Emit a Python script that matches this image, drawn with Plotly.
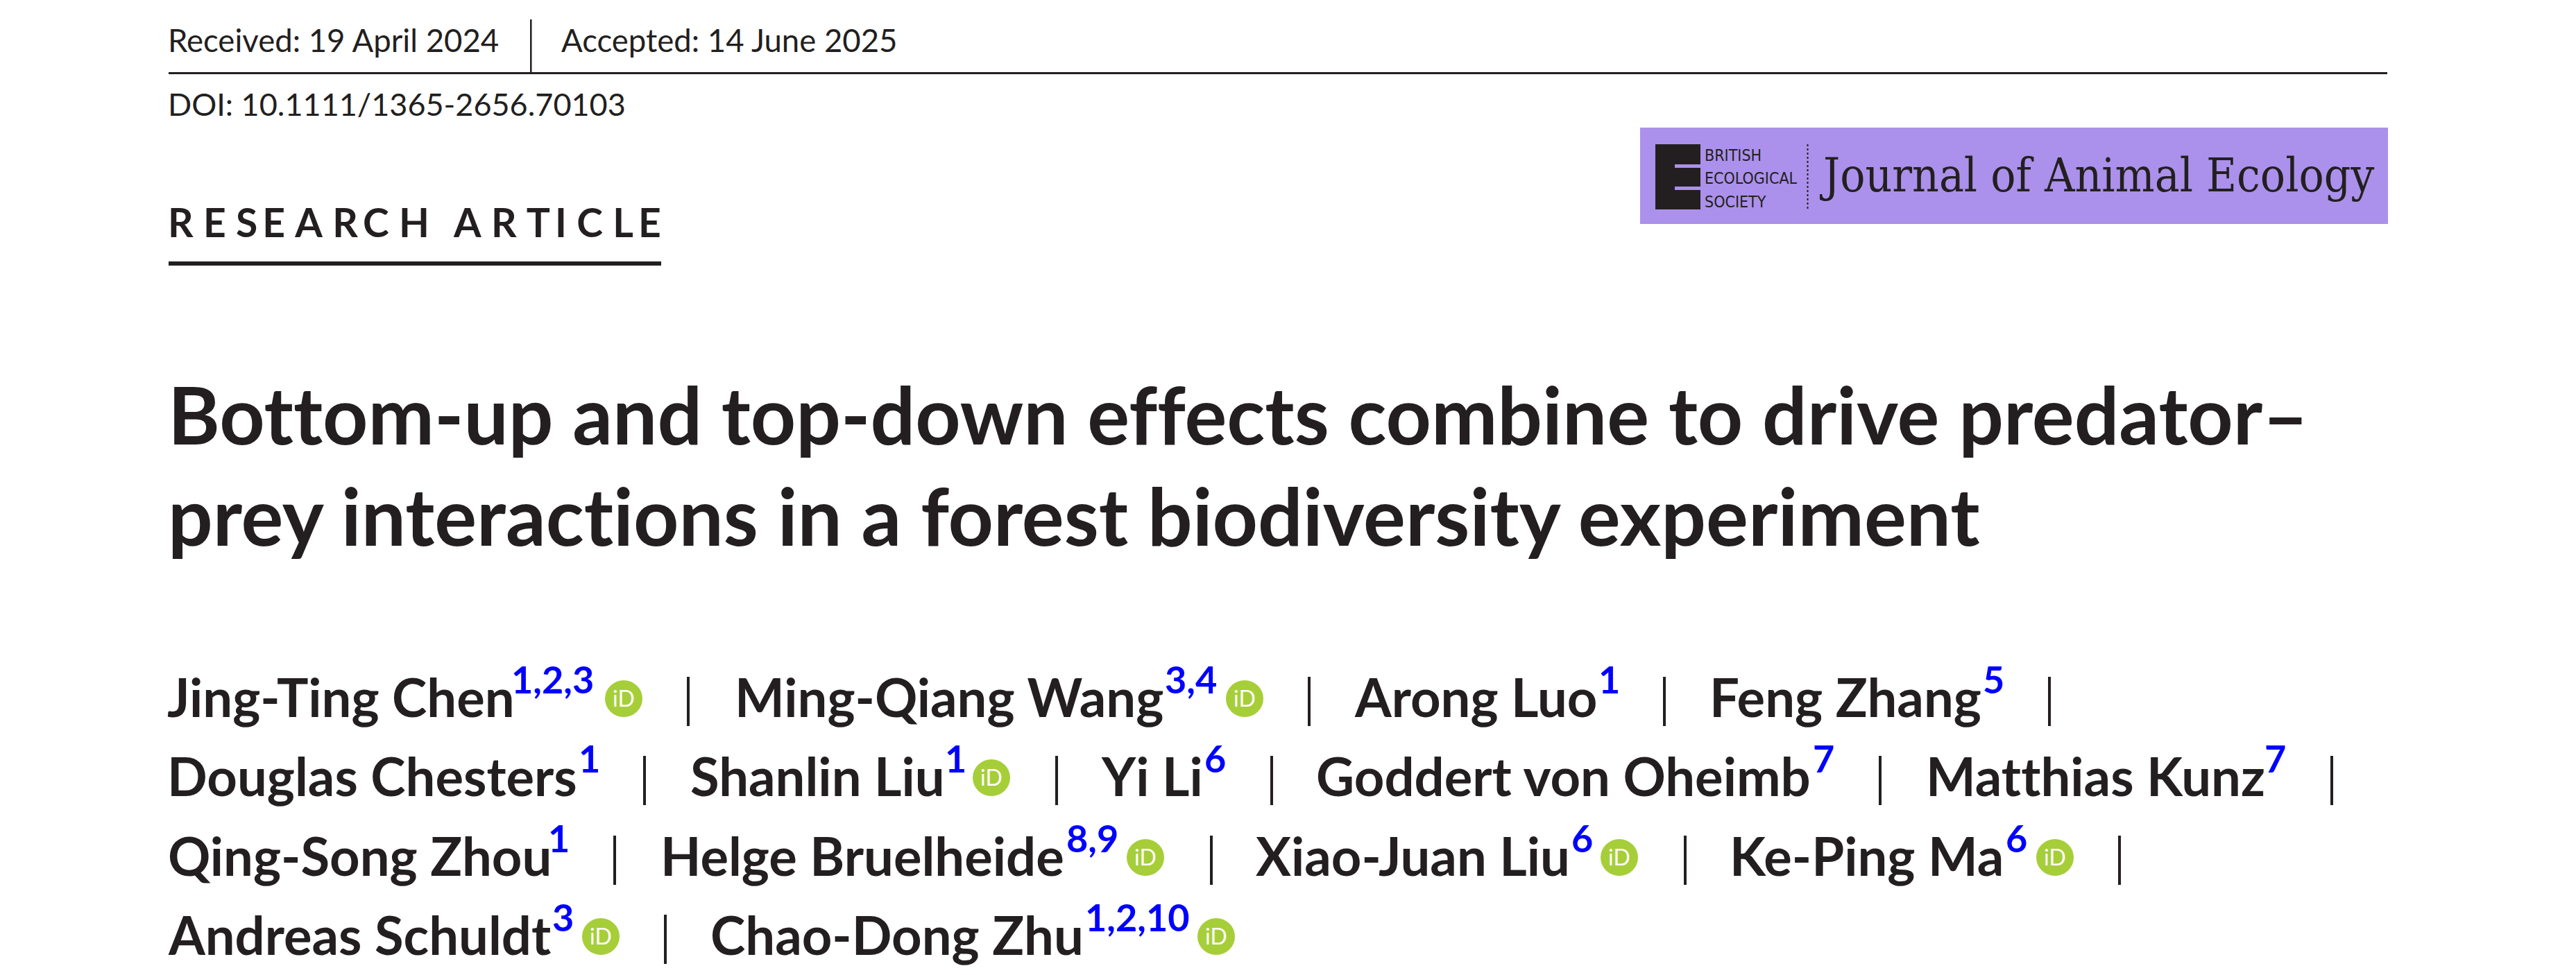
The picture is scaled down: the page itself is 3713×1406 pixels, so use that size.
import plotly.graph_objects as go

# page furniture
INK = "#231f20"
LINK = "#0000ff"
ORCID = "#a6ce39"
LOGO = "#ab91eb"

received = "Received: 19 April 2024"
accepted = "Accepted: 14 June 2025"
doi = "DOI: 10.1111/1365-2656.70103"
# tracked-out label, mixed thin and four-per-em spaces get the width of the original
article_type = "".join(c + ("\u2009" if i % 3 == 2 else "\u2005") for i, c in enumerate("RESEARCH ARTICLE")).rstrip()
# zero width non-joiners keep Lato from drawing tt, ff and ti ligatures
title_lines = ["Bot\u200ctom-up and top-down ef\u200cfects combine to drive predator–",
               "prey interact\u200cions in a forest biodiversity experiment"]

# author names and affiliation numbers, one list per line of the byline
names = [
    ["Jing-Ting Chen", "Ming-Qiang Wang", "Arong Luo", "Feng Zhang"],
    ["Douglas Chesters", "Shanlin Liu", "Yi Li", "Goddert von Oheimb", "Mat\u200cthias Kunz"],
    ["Qing-Song Zhou", "Helge Bruelheide", "Xiao-Juan Liu", "Ke-Ping Ma"],
    ["Andreas Schuldt", "Chao-Dong Zhu"],
]
affils = [
    ["1,2,3", "3,4", "1", "5"],
    ["1", "1", "6", "7", "7"],
    ["1", "8,9", "6", "6"],
    ["3", "1,2,10"],
]

# where things sit on the page, in picture pixels
name_x = [
    [240, 1058, 1951, 2463],
    [240, 994, 1586, 1896, 2775],
    [241, 951, 1809, 2492],
    [241, 1023],
]
affil_x = [
    [736, 1678, 2303, 2857],
    [833, 1361, 1735, 2612, 3263],
    [789, 1536, 2264, 2890],
    [795, 1563],
]
orcid_x = [
    [899, 1794],
    [1429],
    [1651, 2334, 2962],
    [866, 1753],
]
bar_x = [
    [992, 1887, 2399, 2954],
    [929, 1523, 1833, 2710, 3361],
    [886, 1746, 2429, 3055],
    [959],
]
row_base = [1034, 1148, 1263, 1377]


def text(x, base, s, size, color=INK, weight=400, family="Lato", anchor="left"):
    # base is the baseline, annotations are anchored on the middle of the line box
    return dict(x=x, y=base - 0.387 * size, xref="x", yref="y", text=s, showarrow=False, xanchor=anchor,
                yanchor="middle", font=dict(family=family, size=size, color=color, weight=weight), borderpad=0)


def rect(x0, y0, x1, y1, color):
    return dict(type="rect", xref="x", yref="y", x0=x0, y0=y0, x1=x1, y1=y1, fillcolor=color, line_width=0, layer="below")


fig = go.Figure()
fig.add_trace(go.Scatter(x=[0], y=[0], mode="markers", marker=dict(opacity=0), hoverinfo="skip", showlegend=False))

notes = [
    text(241, 75, received, 45.5),
    text(808, 75, accepted, 45.5),
    text(241, 167, doi, 45),
    text(241, 342, article_type, 57, weight=700),
    text(241, 641, title_lines[0], 114, weight=700),
    text(241, 787, title_lines[1], 114, weight=700),
]
shapes = [
    rect(243, 104, 3441, 107, INK),
    rect(764, 28, 766.5, 105, INK),
    rect(243, 377, 953, 383, INK),
    # logo block
    rect(2364, 184, 3442, 323, LOGO),
    rect(2386, 208, 2451, 302, INK),
    rect(2414, 237, 2451, 242, LOGO),
    rect(2414, 269, 2451, 274, LOGO),
    dict(type="line", xref="x", yref="y", x0=2605.5, x1=2605.5, y0=208, y1=303, line=dict(color=INK, width=2, dash="dot")),
]
notes += [
    text(2456, 233, "BRITISH", 23, family="DejaVu Sans Condensed"),
    text(2456, 266, "ECOLOGICAL", 23, family="DejaVu Sans Condensed"),
    text(2456, 300, "SOCIETY", 23, family="DejaVu Sans Condensed"),
    text(2621, 279, "Journal of Animal Ecology", 67, family="DejaVu Serif Condensed"),
]

for r, row in enumerate(names):
    base = row_base[r]
    for i, name in enumerate(row):
        notes.append(text(name_x[r][i], base, name, 76, weight=700))
        notes.append(text(affil_x[r][i], base - 34, affils[r][i], 54, color=LINK, weight=700))
    for cx in orcid_x[r]:
        shapes.append(dict(type="circle", xref="x", yref="y", x0=cx - 27, x1=cx + 27, y0=base - 53, y1=base,
                           fillcolor=ORCID, line_width=0, layer="below"))
        notes.append(text(cx, base - 15, "iD", 32, color="white", anchor="center"))
    for bx in bar_x[r]:
        shapes.append(rect(bx - 2, base - 58, bx + 2, base + 13, INK))

# the page body has an 8px margin, so the axes start 8px in
fig.update_layout(
    width=3713, height=1406,
    margin=dict(l=0, r=0, t=0, b=0),
    paper_bgcolor="white", plot_bgcolor="white",
    xaxis=dict(range=[8, 3721], visible=False),
    yaxis=dict(range=[1414, 8], visible=False),
    annotations=notes, shapes=shapes,
    showlegend=False,
)

fig.write_html("out.html")
